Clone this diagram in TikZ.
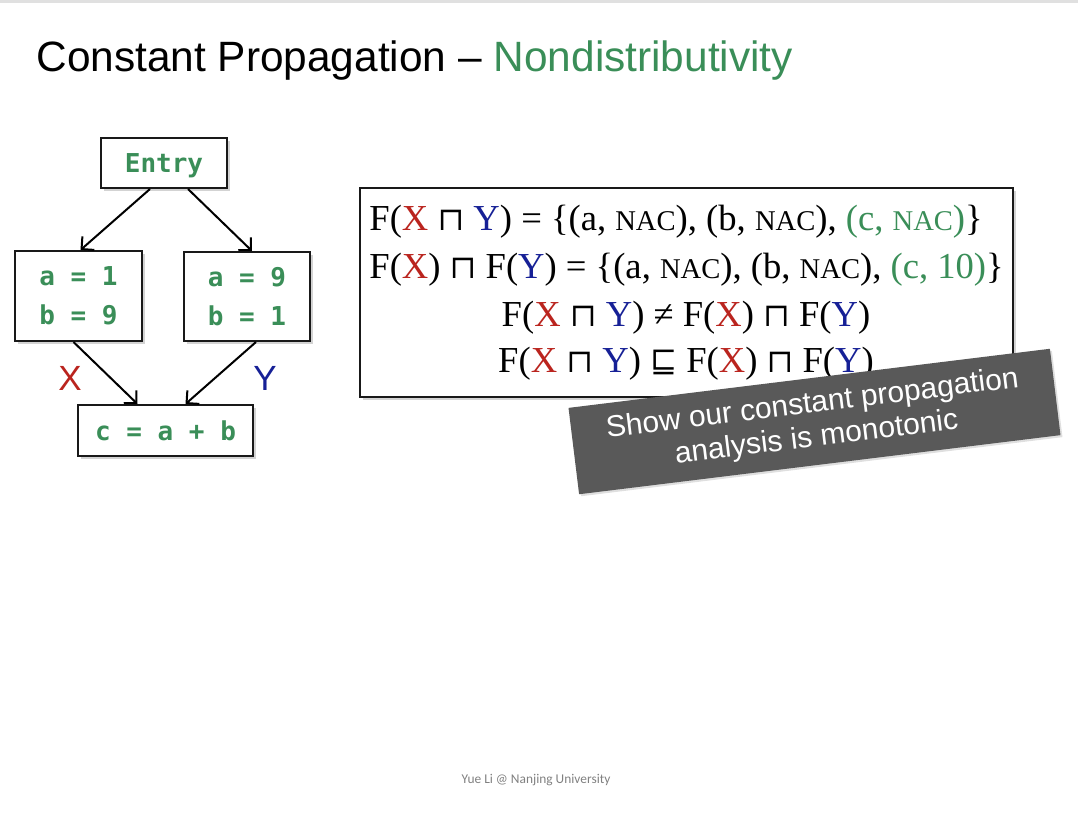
\documentclass[tikz,border=0pt]{standalone}
\usepackage{fontspec}
\setmainfont{Liberation Serif}
\setsansfont{Liberation Sans}
\setmonofont{DejaVu Sans Mono}
\newfontfamily\footfont{Carlito}
\newfontfamily\opfont{DejaVu Serif}
\usetikzlibrary{arrows.meta, shadows}
\definecolor{codegreen}{RGB}{58,142,88}
\definecolor{xred}{RGB}{186,36,30}
\definecolor{yblue}{RGB}{22,32,150}
\colorlet{box edge}{black!90}
\colorlet{note area}{black!65}
\newcommand{\nac}{{\fontsize{14.3}{16}\selectfont NAC}}
\newcommand{\vx}{\textcolor{xred}{X}}
\newcommand{\vy}{\textcolor{yblue}{Y}}
\newcommand{\meet}{{\opfont\fontsize{16}{16}\selectfont ⊓}}
\newcommand{\below}{{\opfont\fontsize{16}{16}\selectfont ⊑}}
\tikzset{
  block/.style={draw=box edge, line width=1pt, fill=white, inner sep=0pt,
    align=center, font=\ttfamily\bfseries\fontsize{13}{19.5}\selectfont,
    text=codegreen, drop shadow={shadow xshift=1.5pt, shadow yshift=-1.5pt, opacity=0.35}},
  cfgedge/.style={-{Straight Barb[length=4.5pt, width=9pt]}, line width=1pt},
  varlabel/.style={font=\sffamily\fontsize{17.5}{20}\selectfont},
  eqline/.style={font=\fontsize{18.3}{20}\selectfont, inner sep=0pt},
}

\begin{document}
\begin{tikzpicture}[x=0.5pt, y=-0.5pt]
    \useasboundingbox (0,0) rectangle (1078,816);
    \fill[black!12] (0,0) rectangle (1078,3);
    \node[anchor=base west, inner sep=0pt, font=\sffamily\fontsize{21.2}{25}\selectfont]
        (title) at (36,71) {Constant Propagation -- \textcolor{codegreen}{Nondistributivity}};

    \node[block, text depth=0pt, minimum width=63pt, minimum height=25pt] (entry) at (164,163) {Entry};
    \node[block, minimum width=63.5pt, minimum height=45pt] (blkx) at (78.5,296) {a = 1\\b = 9};
    \node[block, minimum width=63pt, minimum height=44.5pt] (blky) at (247,296.5) {a = 9\\b = 1};
    \node[block, minimum width=87.5pt, minimum height=25.5pt] (join) at (165.5,430.5) {c = a + b};
    \draw[cfgedge] ([xshift=-7pt]entry.south) -- ([xshift=1pt]blkx.north);
    \draw[cfgedge] ([xshift=12pt]entry.south) -- ([xshift=2.5pt]blky.north);
    \draw[cfgedge] ([xshift=-2.5pt]blkx.south) -- ([xshift=-14pt]join.north);
    \draw[cfgedge] ([xshift=4.5pt]blky.south) -- ([xshift=10pt]join.north);
    \node[varlabel, text=xred] (lx) at (70,378) {X};
    \node[varlabel, text=yblue] (ly) at (265,378) {Y};

    \node[draw=box edge, line width=1pt, fill=white, minimum width=326.5pt, minimum height=104.5pt,
        drop shadow={shadow xshift=1.5pt, shadow yshift=-1.5pt, opacity=0.35}] (formula) at (686.5,292.5) {};
    \node[eqline, anchor=base west] (l1) at (369,230)
        {F(\vx{} \meet{} \vy) = \{(a, \nac), (b, \nac), \textcolor{codegreen}{(c, \nac)}\}};
    \node[eqline, anchor=base west] (l2) at (369,278)
        {F(\vx) \meet{} F(\vy) = \{(a, \nac), (b, \nac), \textcolor{codegreen}{(c, 10)}\}};
    \node[eqline, anchor=base] (l3) at (686,326) {F(\vx{} \meet{} \vy) ≠ F(\vx) \meet{} F(\vy)};
    \node[eqline, anchor=base] (l4) at (686,372) {F(\vx{} \meet{} \vy) \below{} F(\vx) \meet{} F(\vy)};

    \node[fill=note area, text=white, rotate=7, minimum width=242.5pt, minimum height=43.5pt,
        inner sep=0pt, align=center, font=\sffamily\fontsize{15}{17}\selectfont,
        drop shadow={shadow xshift=1pt, shadow yshift=-1pt, opacity=0.25}]
        (note) at (814.5,421.5) {Show our constant propagation\\analysis is monotonic};

    \node[text=black!50, font=\footfont\fontsize{6.7}{8}\selectfont] (foot) at (536,780) {Yue Li @ Nanjing University};
\end{tikzpicture}
\end{document}
